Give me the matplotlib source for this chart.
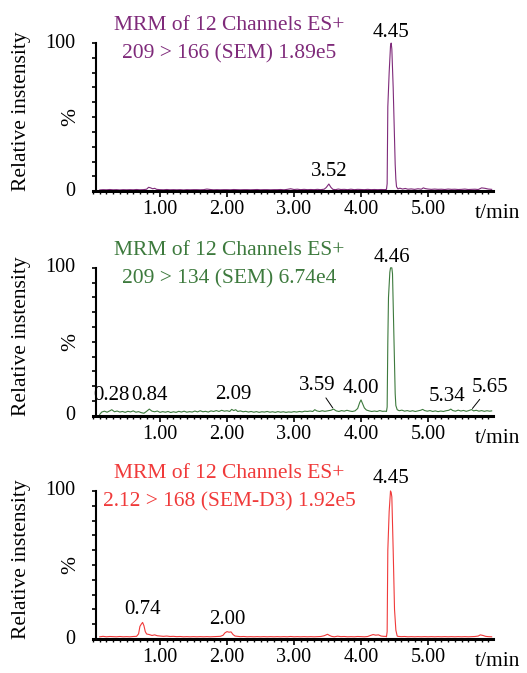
import matplotlib
matplotlib.use('Agg')
import matplotlib.pyplot as plt
from matplotlib.ticker import MultipleLocator

plt.rcParams['font.family'] = ['Liberation Serif', 'DejaVu Serif']

# --- trace 1: 209 > 166 (SEM), times in min, intensity in %
t_sem166 = [0.10, 0.15, 0.20, 0.25, 0.30, 0.35, 0.40, 0.45, 0.50, 0.55, 0.60, 0.65, 0.70, 0.75,
            0.80, 0.83, 0.86, 0.89, 0.92, 0.95, 1.00, 1.05, 1.10, 1.15, 1.20, 1.25, 1.30, 1.35,
            1.40, 1.45, 1.50, 1.55, 1.60, 1.65, 1.70, 1.75, 1.80, 1.85, 1.90, 1.95, 2.00, 2.05,
            2.10, 2.15, 2.20, 2.25, 2.30, 2.35, 2.40, 2.45, 2.50, 2.55, 2.60, 2.65, 2.70, 2.75,
            2.80, 2.85, 2.90, 2.95, 3.00, 3.05, 3.10, 3.15, 3.20, 3.25, 3.30, 3.35, 3.40, 3.45,
            3.48, 3.52, 3.55, 3.58, 3.62, 3.66, 3.70, 3.75, 3.80, 3.85, 3.90, 3.95, 4.00, 4.05,
            4.10, 4.15, 4.20, 4.25, 4.30, 4.35, 4.38, 4.39, 4.40, 4.42, 4.44, 4.45, 4.46, 4.48,
            4.50, 4.51, 4.52, 4.53, 4.55, 4.58, 4.62, 4.66, 4.70, 4.75, 4.80, 4.85, 4.90, 4.93,
            4.96, 5.00, 5.05, 5.10, 5.15, 5.20, 5.25, 5.30, 5.35, 5.40, 5.45, 5.50, 5.55, 5.60,
            5.65, 5.70, 5.75, 5.80, 5.85, 5.90, 5.95]
i_sem166 = [0.8, 1.0, 0.9, 1.1, 0.9, 1.0, 0.8, 1.0, 0.9, 1.0, 0.9, 1.1, 0.9, 1.0,
            1.3, 2.6, 2.2, 1.6, 1.9, 1.2, 1.0, 0.9, 1.1, 0.9, 1.0, 0.9, 1.0, 0.8,
            1.0, 0.9, 1.0, 1.0, 0.9, 1.0, 1.4, 1.1, 0.9, 1.0, 0.9, 1.0, 1.0, 0.9,
            1.1, 1.0, 0.9, 1.0, 1.0, 0.9, 1.0, 1.1, 0.9, 1.0, 1.0, 0.9, 1.0, 1.0,
            1.1, 0.9, 1.2, 1.6, 1.1, 1.3, 1.0, 1.2, 1.0, 1.1, 1.0, 1.2, 1.0, 1.3,
            2.4, 4.8, 2.6, 1.2, 1.0, 1.4, 1.1, 1.2, 1.0, 1.3, 1.0, 1.2, 1.1, 1.0,
            1.2, 1.0, 1.1, 1.0, 1.1, 1.0, 1.2, 5.0, 57.0, 80.0, 98.0, 100.0, 96.0, 70.0,
            35.0, 18.0, 8.0, 3.0, 1.5, 2.0, 1.4, 1.8, 1.3, 1.5, 1.2, 1.6, 1.3, 2.2,
            1.7, 1.4, 1.2, 1.4, 1.2, 1.3, 1.1, 1.4, 1.2, 1.3, 1.1, 1.2, 1.4, 1.1,
            1.2, 1.3, 1.1, 2.2, 1.9, 1.4, 1.2]

# --- trace 2: 209 > 134 (SEM)
t_sem134 = [0.10, 0.13, 0.17, 0.21, 0.25, 0.28, 0.32, 0.36, 0.40, 0.44, 0.48, 0.52, 0.56, 0.60,
            0.64, 0.68, 0.72, 0.76, 0.80, 0.84, 0.88, 0.92, 0.96, 1.00, 1.04, 1.08, 1.12, 1.16,
            1.20, 1.24, 1.28, 1.32, 1.36, 1.40, 1.44, 1.48, 1.52, 1.56, 1.60, 1.64, 1.68, 1.72,
            1.76, 1.80, 1.84, 1.88, 1.92, 1.96, 2.00, 2.04, 2.07, 2.10, 2.13, 2.16, 2.20, 2.24,
            2.28, 2.32, 2.36, 2.40, 2.44, 2.48, 2.52, 2.56, 2.60, 2.64, 2.68, 2.72, 2.76, 2.80,
            2.84, 2.88, 2.92, 2.96, 3.00, 3.04, 3.08, 3.12, 3.16, 3.20, 3.24, 3.28, 3.31, 3.34,
            3.38, 3.42, 3.46, 3.50, 3.55, 3.59, 3.63, 3.67, 3.71, 3.75, 3.79, 3.83, 3.87, 3.91,
            3.95, 3.98, 4.00, 4.02, 4.05, 4.08, 4.12, 4.16, 4.20, 4.24, 4.28, 4.32, 4.36, 4.38,
            4.39, 4.40, 4.41, 4.43, 4.44, 4.45, 4.46, 4.47, 4.48, 4.50, 4.51, 4.52, 4.54, 4.57,
            4.61, 4.65, 4.69, 4.73, 4.77, 4.81, 4.85, 4.89, 4.92, 4.95, 4.99, 5.03, 5.07, 5.11,
            5.15, 5.19, 5.23, 5.27, 5.31, 5.34, 5.37, 5.41, 5.45, 5.49, 5.53, 5.57, 5.61, 5.65,
            5.68, 5.72, 5.76, 5.80, 5.84, 5.88, 5.92, 5.95]
i_sem134 = [1.0, 2.6, 3.2, 2.5, 3.4, 4.2, 2.8, 3.3, 2.6, 3.0, 2.4, 3.1, 2.7, 3.4,
            2.5, 2.9, 2.2, 1.8, 3.1, 4.6, 3.2, 2.8, 3.3, 2.4, 2.9, 2.5, 3.0, 2.3,
            2.8, 2.4, 3.1, 2.6, 3.2, 2.5, 2.9, 2.6, 3.3, 2.7, 3.5, 2.8, 3.1, 2.6,
            3.4, 3.0, 3.6, 3.0, 3.8, 3.2, 3.5, 3.0, 4.4, 3.6, 4.2, 3.0, 3.4, 2.8,
            3.1, 2.6, 3.0, 2.5, 2.9, 2.4, 2.8, 2.6, 3.0, 2.5, 2.8, 2.4, 2.9, 2.5,
            2.8, 2.4, 2.7, 2.5, 2.9, 2.6, 3.0, 2.7, 3.2, 3.0, 3.3, 3.0, 4.2, 3.4,
            3.0, 3.5, 3.1, 3.4, 3.8, 4.6, 3.4, 3.0, 3.6, 3.2, 3.8, 3.3, 3.0, 3.4,
            5.0, 9.0, 10.8, 8.6, 5.4, 4.0, 3.4, 3.0, 3.3, 3.0, 3.6, 3.1, 3.2, 3.0,
            6.0, 50.0, 80.0, 97.0, 100.0, 100.0, 100.0, 96.0, 75.0, 35.0, 15.0, 7.0, 4.2, 3.5,
            3.9, 3.2, 3.6, 3.1, 3.5, 3.0, 3.4, 3.8, 4.4, 3.6, 3.2, 3.6, 3.0, 3.4,
            2.9, 3.3, 3.0, 3.5, 3.8, 4.6, 3.6, 3.2, 3.9, 3.3, 3.7, 3.1, 3.6, 4.3,
            3.4, 3.8, 3.2, 3.6, 3.1, 3.5, 3.2, 3.4]

# --- trace 3: 212 > 168 (SEM-D3)
t_semd3 = [0.10, 0.15, 0.20, 0.25, 0.30, 0.35, 0.40, 0.45, 0.50, 0.55, 0.60, 0.65, 0.68, 0.70,
           0.72, 0.74, 0.76, 0.78, 0.80, 0.84, 0.88, 0.92, 0.96, 1.00, 1.05, 1.10, 1.15, 1.20,
           1.25, 1.30, 1.35, 1.40, 1.45, 1.50, 1.55, 1.60, 1.65, 1.70, 1.75, 1.80, 1.85, 1.90,
           1.94, 1.97, 2.00, 2.03, 2.06, 2.09, 2.12, 2.16, 2.20, 2.25, 2.30, 2.35, 2.40, 2.45,
           2.50, 2.55, 2.60, 2.65, 2.70, 2.75, 2.80, 2.85, 2.90, 2.95, 3.00, 3.05, 3.10, 3.15,
           3.20, 3.25, 3.30, 3.35, 3.40, 3.45, 3.50, 3.53, 3.56, 3.60, 3.65, 3.70, 3.75, 3.80,
           3.85, 3.90, 3.95, 4.00, 4.05, 4.10, 4.14, 4.18, 4.22, 4.26, 4.30, 4.34, 4.37, 4.38,
           4.39, 4.40, 4.42, 4.44, 4.45, 4.46, 4.48, 4.50, 4.52, 4.54, 4.55, 4.60, 4.65, 4.70,
           4.75, 4.80, 4.85, 4.90, 4.95, 5.00, 5.05, 5.10, 5.15, 5.20, 5.25, 5.30, 5.35, 5.40,
           5.45, 5.50, 5.55, 5.60, 5.65, 5.70, 5.75, 5.78, 5.82, 5.86, 5.90, 5.95]
i_semd3 = [1.5, 1.8, 1.5, 1.7, 1.6, 1.5, 1.7, 1.5, 1.6, 1.5, 1.7, 1.8, 3.5, 8.5,
           10.0, 11.2, 9.0, 5.0, 3.4, 3.0, 2.4, 2.8, 2.2, 2.0, 1.8, 2.0, 1.7, 1.8,
           1.6, 1.7, 1.5, 1.6, 1.5, 1.6, 1.5, 1.6, 1.5, 1.6, 1.5, 1.6, 1.7, 1.8,
           2.5, 4.2, 5.0, 4.6, 4.8, 3.0, 2.0, 1.8, 1.6, 1.7, 1.5, 1.6, 1.5, 1.6,
           1.5, 1.6, 1.5, 1.6, 1.5, 1.6, 1.5, 1.6, 1.5, 1.7, 1.5, 1.6, 1.5, 1.6,
           1.5, 1.6, 1.5, 1.6, 1.7, 2.2, 3.2, 2.4, 1.8, 1.5, 1.9, 1.6, 1.7, 1.5,
           1.6, 1.5, 1.7, 1.6, 1.5, 1.7, 2.4, 3.0, 2.6, 2.8, 2.0, 1.8, 1.8, 1.5,
           5.0, 60.0, 86.0, 100.0, 99.0, 96.0, 60.0, 20.0, 6.0, 2.0, 1.8, 1.6, 1.7, 1.5,
           1.6, 1.5, 1.6, 1.5, 1.6, 1.5, 1.6, 1.5, 1.6, 1.5, 1.6, 1.5, 1.6, 1.5,
           1.6, 1.5, 1.6, 1.5, 1.6, 1.7, 2.0, 2.8, 2.4, 1.8, 1.6, 1.5]

titles = [('MRM of 12 Channels ES+', '209 > 166 (SEM) 1.89e5'),
          ('MRM of 12 Channels ES+', '209 > 134 (SEM) 6.74e4'),
          ('MRM of 12 Channels ES+', '2.12 > 168 (SEM-D3) 1.92e5')]
colors = ['#7f2a7a', '#3d7a3d', '#f03a3a']

# peak labels: (time, height, text, offset in pixels, leader line?)
peaks_sem166 = [(3.52, 4.8, '3.52', (0, 3), False), (4.45, 100.0, '4.45', (0, 1), False)]
peaks_sem134 = [(0.28, 4.2, '0.28', (0, 5), False), (0.84, 4.6, '0.84', (0, 4), False),
                (2.09, 4.4, '2.09', (0, 5), False), (3.59, 4.6, '3.59', (-16, 14), True),
                (4.00, 10.8, '4.00', (0, 2), False), (4.46, 100.0, '4.46', (0, 1), False),
                (5.34, 4.6, '5.34', (-4, 3), False), (5.65, 4.3, '5.65', (18, 13), True)]
peaks_semd3 = [(0.74, 11.2, '0.74', (0, 3), False), (2.00, 5.0, '2.00', (0, 3), False),
               (4.45, 100.0, '4.45', (0, 3), False)]

panels = [(t_sem166, i_sem166, peaks_sem166),
          (t_sem134, i_sem134, peaks_sem134),
          (t_semd3, i_semd3, peaks_semd3)]

fig = plt.figure(figsize=(5.27, 6.73), dpi=100)
bottoms = [0.716, 0.382, 0.0505]

for k, (t, y, peaks) in enumerate(panels):
    ax = fig.add_axes([0.1765, bottoms[k], 0.759, 0.22])
    c = colors[k]
    ax.plot(t, y, color=c, lw=0.8, clip_on=False)
    ax.set_xlim(0, 5.97)
    ax.set_ylim(0, 100)

    for s in ['top', 'right']:
        ax.spines[s].set_visible(False)
    ax.spines['left'].set_position(('data', 0.05))
    ax.spines['left'].set_linewidth(1.5)
    ax.spines['bottom'].set_linewidth(2.2)

    ax.xaxis.set_major_locator(MultipleLocator(1))
    ax.xaxis.set_minor_locator(MultipleLocator(0.1))
    ax.set_xticks([1, 2, 3, 4, 5])
    ax.set_xticklabels(['1.00', '2.00', '3.00', '4.00', '5.00'], fontsize=14.5)
    ax.tick_params(axis='x', which='major', length=4.5, width=1.2, pad=2)
    ax.tick_params(axis='x', which='minor', length=2.2, width=1.0)

    ax.set_yticks(range(0, 101, 10))
    ax.set_yticklabels([])
    ax.tick_params(axis='y', which='major', length=3, width=1.2)

    ytr = ax.get_yaxis_transform()
    ax.text(-0.045, 100, '100', transform=ytr, ha='right', va='center', fontsize=14.5)
    ax.text(-0.045, 0, '0', transform=ytr, ha='right', va='center', fontsize=14.5)
    ax.text(-0.055, 0.5, '%', transform=ax.transAxes, rotation=90,
            ha='center', va='center', fontsize=15.5)
    ax.text(-0.18, 0.54, 'Relative instensity', transform=ax.transAxes, rotation=90,
            ha='center', va='center', fontsize=15.5)
    ax.text(1.01, -0.15, 't/min', transform=ax.transAxes, ha='center', va='center',
            fontsize=15.5)

    ax.text(0.34, 1.12, titles[k][0], transform=ax.transAxes, ha='center', va='center',
            color=c, fontsize=15.5)
    ax.text(0.34, 0.925, titles[k][1], transform=ax.transAxes, ha='center', va='center',
            color=c, fontsize=15.5)

    for (pt, ph, lab, off, leader) in peaks:
        if leader:
            ax.annotate(lab, xy=(pt, ph), xytext=off, textcoords='offset pixels',
                        ha='center', va='bottom', fontsize=15, annotation_clip=False,
                        arrowprops=dict(arrowstyle='-', lw=0.7, color='black',
                                        shrinkA=0, shrinkB=1))
        else:
            ax.annotate(lab, xy=(pt, ph), xytext=off, textcoords='offset pixels',
                        ha='center', va='bottom', fontsize=15, annotation_clip=False)

fig.savefig('out.png', dpi=100)
